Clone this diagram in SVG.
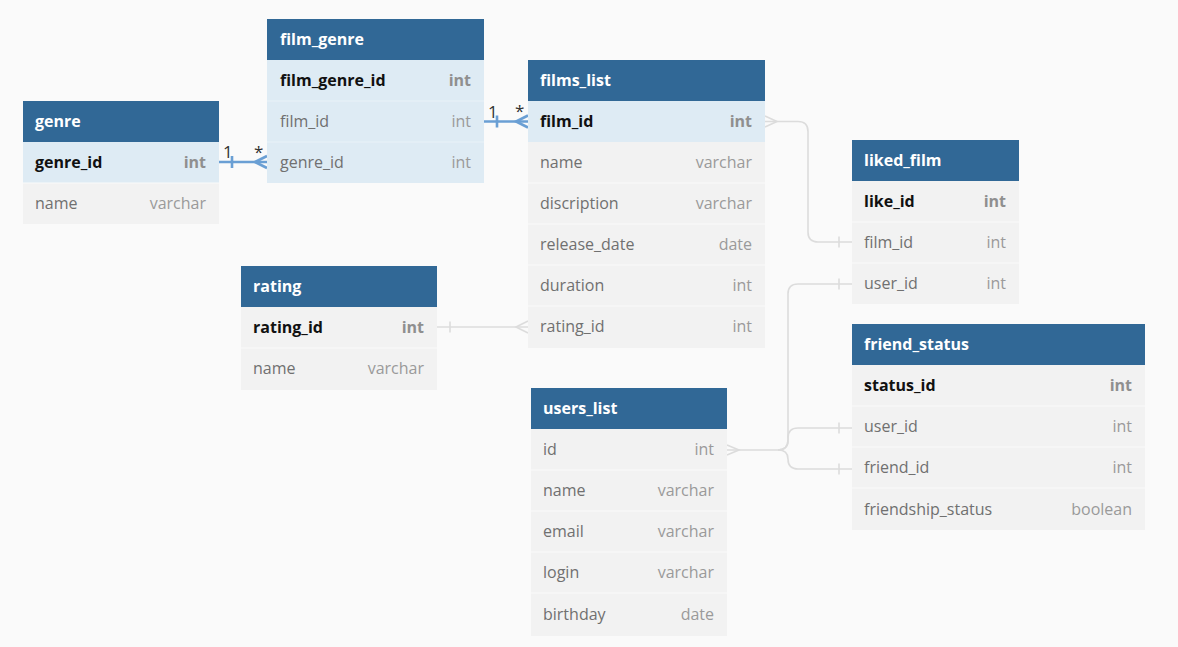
<svg xmlns="http://www.w3.org/2000/svg" width="1178" height="647" viewBox="0 0 1178 647">
<style>
text{font-family:"Open Sans","Noto Sans","Liberation Sans",sans-serif;font-size:16px}
.hd{fill:#316896}
.ht{fill:#ffffff;font-weight:bold}
.r{fill:#f2f2f2}
.rh{fill:#deebf4}
.sep{stroke:#fafafa;stroke-width:1}
.seph{stroke:#e9f2f8;stroke-width:1}
.fn{fill:#707070}
.ty{fill:#9a9a9a;text-anchor:end}
.pk{fill:#111111;font-weight:bold}
.pkt{fill:#8f8f8f;font-weight:bold;text-anchor:end}
.cg{fill:none;stroke:#dcdcdc;stroke-width:1.6}
.cb{fill:none;stroke:#6a9fd4;stroke-width:2.6}
.lb{fill:#333333;font-size:17px}
</style>
<rect width="1178" height="647" fill="#fafafa"/>

<g id="connectors">
  <!-- genre - film_genre -->
  <path class="cb" d="M219,162 H267"/>
  <path class="cb" d="M232,156 V168"/>
  <path class="cb" d="M267,156 L255,162 L267,168"/>
  <text class="lb" x="223" y="158">1</text>
  <text class="lb" x="254" y="158">*</text>
  <!-- film_genre - films_list -->
  <path class="cb" d="M484,121.5 H528"/>
  <path class="cb" d="M497,115.5 V127.5"/>
  <path class="cb" d="M528,115.5 L516,121.5 L528,127.5"/>
  <text class="lb" x="488" y="118">1</text>
  <text class="lb" x="515" y="117">*</text>
  <!-- films_list - liked_film -->
  <path class="cg" d="M765,121.5 H798 Q808,121.5 808,131.5 V232 Q808,242 818,242 H852"/>
  <path class="cg" d="M765,116 L777,121.5 L765,127"/>
  <path class="cg" d="M839,236.5 V247.5"/>
  <!-- rating - films_list -->
  <path class="cg" d="M437,327 H528"/>
  <path class="cg" d="M450,321.5 V332.5"/>
  <path class="cg" d="M528,321 L516,327 L528,333"/>
  <!-- users_list - liked_film / friend_status -->
  <path class="cg" d="M727,450 H778 Q788,450 788,440 V294 Q788,284 798,284 H852"/>
  <path class="cg" d="M778,450 Q788,450 788,440 V438 Q788,428 798,428 H852"/>
  <path class="cg" d="M778,450 Q788,450 788,459 Q788,469 798,469 H852"/>
  <path class="cg" d="M727,445 L739,450 L727,455"/>
  <path class="cg" d="M839,278.5 V289.5"/>
  <path class="cg" d="M839,422.5 V433.5"/>
  <path class="cg" d="M839,463.5 V474.5"/>
</g>

<g id="genre">
  <rect class="hd" x="23" y="101" width="196" height="41"/>
  <text class="ht" x="35" y="127">genre</text>
  <rect class="rh" x="23" y="142" width="196" height="41"/>
  <rect class="r" x="23" y="183" width="196" height="41"/>
  <line class="sep" x1="23" y1="183" x2="219" y2="183"/>
  <text class="pk" x="35" y="168">genre_id</text><text class="pkt" x="206" y="168">int</text>
  <text class="fn" x="35" y="209">name</text><text class="ty" x="206" y="209">varchar</text>
</g>

<g id="film_genre">
  <rect class="hd" x="267" y="19" width="217" height="41"/>
  <text class="ht" x="280" y="45">film_genre</text>
  <rect class="rh" x="267" y="60" width="217" height="123"/>
  <line class="seph" x1="267" y1="101" x2="484" y2="101"/>
  <line class="seph" x1="267" y1="142" x2="484" y2="142"/>
  <text class="pk" x="280" y="86">film_genre_id</text><text class="pkt" x="471" y="86">int</text>
  <text class="fn" x="280" y="127">film_id</text><text class="ty" x="471" y="127">int</text>
  <text class="fn" x="280" y="168">genre_id</text><text class="ty" x="471" y="168">int</text>
</g>

<g id="films_list">
  <rect class="hd" x="528" y="60" width="237" height="41"/>
  <text class="ht" x="540" y="86">films_list</text>
  <rect class="rh" x="528" y="101" width="237" height="41"/>
  <rect class="r" x="528" y="142" width="237" height="206"/>
  <line class="sep" x1="528" y1="183" x2="765" y2="183"/>
  <line class="sep" x1="528" y1="224" x2="765" y2="224"/>
  <line class="sep" x1="528" y1="265" x2="765" y2="265"/>
  <line class="sep" x1="528" y1="306" x2="765" y2="306"/>
  <text class="pk" x="540" y="127">film_id</text><text class="pkt" x="752" y="127">int</text>
  <text class="fn" x="540" y="168">name</text><text class="ty" x="752" y="168">varchar</text>
  <text class="fn" x="540" y="209">discription</text><text class="ty" x="752" y="209">varchar</text>
  <text class="fn" x="540" y="250">release_date</text><text class="ty" x="752" y="250">date</text>
  <text class="fn" x="540" y="291">duration</text><text class="ty" x="752" y="291">int</text>
  <text class="fn" x="540" y="332">rating_id</text><text class="ty" x="752" y="332">int</text>
</g>

<g id="liked_film">
  <rect class="hd" x="852" y="140" width="167" height="41"/>
  <text class="ht" x="864" y="166">liked_film</text>
  <rect class="r" x="852" y="181" width="167" height="123"/>
  <line class="sep" x1="852" y1="222" x2="1019" y2="222"/>
  <line class="sep" x1="852" y1="263" x2="1019" y2="263"/>
  <text class="pk" x="864" y="207">like_id</text><text class="pkt" x="1006" y="207">int</text>
  <text class="fn" x="864" y="248">film_id</text><text class="ty" x="1006" y="248">int</text>
  <text class="fn" x="864" y="289">user_id</text><text class="ty" x="1006" y="289">int</text>
</g>

<g id="rating">
  <rect class="hd" x="241" y="266" width="196" height="41"/>
  <text class="ht" x="253" y="292">rating</text>
  <rect class="r" x="241" y="307" width="196" height="83"/>
  <line class="sep" x1="241" y1="348" x2="437" y2="348"/>
  <text class="pk" x="253" y="333">rating_id</text><text class="pkt" x="424" y="333">int</text>
  <text class="fn" x="253" y="374">name</text><text class="ty" x="424" y="374">varchar</text>
</g>

<g id="users_list">
  <rect class="hd" x="531" y="388" width="196" height="41"/>
  <text class="ht" x="543" y="414">users_list</text>
  <rect class="r" x="531" y="429" width="196" height="207"/>
  <line class="sep" x1="531" y1="470" x2="727" y2="470"/>
  <line class="sep" x1="531" y1="511" x2="727" y2="511"/>
  <line class="sep" x1="531" y1="552" x2="727" y2="552"/>
  <line class="sep" x1="531" y1="593" x2="727" y2="593"/>
  <text class="fn" x="543" y="455">id</text><text class="ty" x="714" y="455">int</text>
  <text class="fn" x="543" y="496">name</text><text class="ty" x="714" y="496">varchar</text>
  <text class="fn" x="543" y="537">email</text><text class="ty" x="714" y="537">varchar</text>
  <text class="fn" x="543" y="578">login</text><text class="ty" x="714" y="578">varchar</text>
  <text class="fn" x="543" y="620">birthday</text><text class="ty" x="714" y="620">date</text>
</g>

<g id="friend_status">
  <rect class="hd" x="852" y="324" width="293" height="41"/>
  <text class="ht" x="864" y="350">friend_status</text>
  <rect class="r" x="852" y="365" width="293" height="165"/>
  <line class="sep" x1="852" y1="406" x2="1145" y2="406"/>
  <line class="sep" x1="852" y1="447" x2="1145" y2="447"/>
  <line class="sep" x1="852" y1="488" x2="1145" y2="488"/>
  <text class="pk" x="864" y="391">status_id</text><text class="pkt" x="1132" y="391">int</text>
  <text class="fn" x="864" y="432">user_id</text><text class="ty" x="1132" y="432">int</text>
  <text class="fn" x="864" y="473">friend_id</text><text class="ty" x="1132" y="473">int</text>
  <text class="fn" x="864" y="515">friendship_status</text><text class="ty" x="1132" y="515">boolean</text>
</g>
</svg>
